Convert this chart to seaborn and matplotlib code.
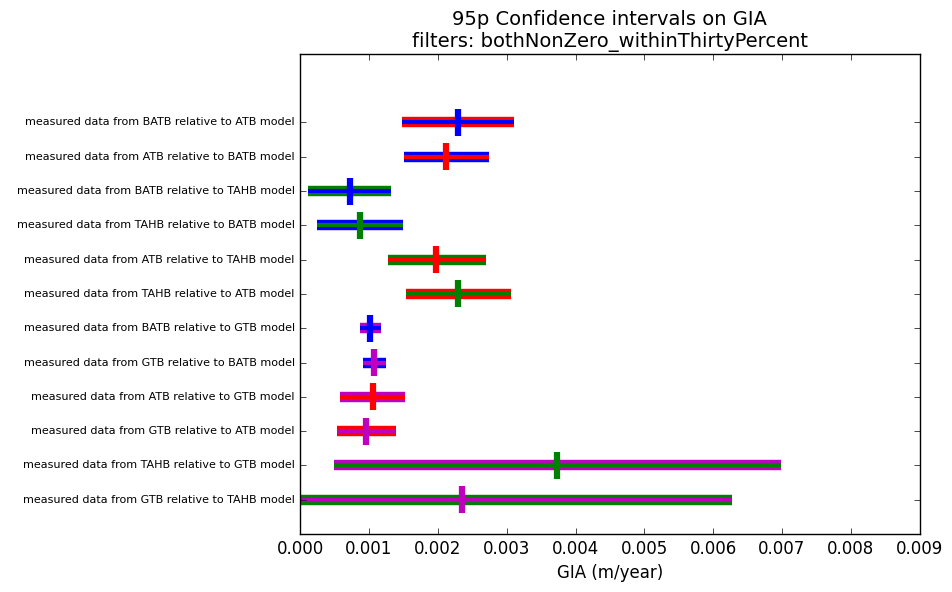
import matplotlib
matplotlib.use("Agg")
import matplotlib.pyplot as plt
import seaborn as sns
import pandas as pd

plt.style.use("classic")

# ── DATA ─────────────────────────────────────────────
labels = [
    "measured data from BATB relative to ATB model",
    "measured data from ATB relative to BATB model",
    "measured data from BATB relative to TAHB model",
    "measured data from TAHB relative to BATB model",
    "measured data from ATB relative to TAHB model",
    "measured data from TAHB relative to ATB model",
    "measured data from BATB relative to GTB model",
    "measured data from GTB relative to BATB model",
    "measured data from ATB relative to GTB model",
    "measured data from GTB relative to ATB model",
    "measured data from TAHB relative to GTB model",
    "measured data from GTB relative to TAHB model",
]
lower = [0.00148, 0.00151, 0.00012, 0.00025, 0.00128, 0.00154,
         0.00087, 0.00091, 0.00058, 0.00054, 0.00049, 0.0]
upper = [0.00311, 0.00274, 0.00132, 0.00149, 0.00270, 0.00306,
         0.00118, 0.00125, 0.00152, 0.00139, 0.00698, 0.00628]
center = [0.00229, 0.00212, 0.00073, 0.00087, 0.00197, 0.00229,
          0.00102, 0.00107, 0.00106, 0.00096, 0.00373, 0.00235]
outer_color = ["r", "b", "g", "b", "g", "r", "m", "b", "m", "r", "m", "g"]
inner_color = ["b", "r", "b", "g", "r", "g", "b", "m", "r", "m", "g", "m"]

n = len(labels)
ypos = list(range(n, 0, -1))

df = pd.DataFrame({"label": labels, "lo": lower, "hi": upper, "c": center,
                   "outer": outer_color, "inner": inner_color, "y": ypos})

fig = plt.figure(figsize=(9.53, 5.92), dpi=100)
ax = fig.add_axes([0.315, 0.098, 0.65, 0.811])

for _, r in df.iterrows():
    ax.hlines(r["y"], r["lo"], r["hi"], colors=r["outer"], linewidth=7.5)
    ax.hlines(r["y"], r["lo"], r["hi"], colors=r["inner"], linewidth=3)

sns.scatterplot(data=df, x="c", y="y", hue="inner",
                palette={k: k for k in set(inner_color)},
                marker="|", s=380, linewidth=4.5, legend=False, ax=ax, zorder=5)

ax.set_xlim(0, 0.009)
ax.set_ylim(0, 14)
ax.set_yticks(ypos)
ax.set_yticklabels(labels, fontsize=8)
ax.set_xticks([i * 0.001 for i in range(10)])
ax.set_xticklabels([f"{i * 0.001:.3f}" for i in range(10)], fontsize=12)
ax.set_xlabel("GIA (m/year)", fontsize=12)
ax.set_ylabel("")
ax.set_title("95p Confidence intervals on GIA\nfilters: bothNonZero_withinThirtyPercent",
             fontsize=14)

fig.savefig("out.png", dpi=100, facecolor="white")
